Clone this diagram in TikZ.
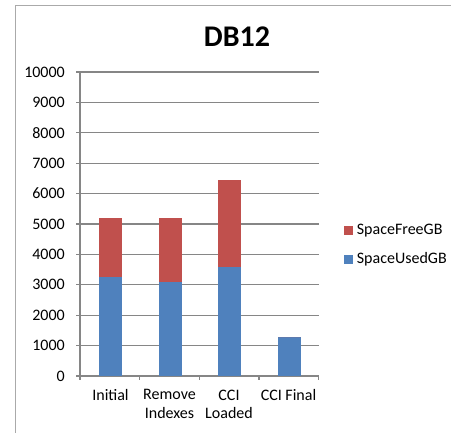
\documentclass[tikz,border=0pt]{standalone}
\usepackage{fontspec}
\setmainfont{Carlito}
\usetikzlibrary{positioning}
\definecolor{UsedBlue}{RGB}{79,129,189}
\definecolor{FreeRed}{RGB}{192,80,77}
\definecolor{GridGray}{RGB}{134,134,134}
\definecolor{FrameGray}{RGB}{170,170,170}
\tikzset{
	grid line/.style={draw=GridGray,line width=1.3pt},
	tick label/.style={font=\fontsize{16}{18}\selectfont,anchor=east,inner sep=0pt},
	cat label/.style={font=\fontsize{16}{18.5}\selectfont,align=center,anchor=north,inner sep=0pt},
	key box/.style={fill=#1,minimum size=9pt,inner sep=0pt},
	key text/.style={font=\fontsize{16}{18}\selectfont,inner sep=0pt},
}

\begin{document}
\begin{tikzpicture}[x=1pt,y=-1pt]
	\useasboundingbox (0,0) rectangle (451,433);
	% chart frame
	\draw[FrameGray,line width=1.2pt] (15.5,433) -- (15.5,5.5) -- (451,5.5);
	\node[font=\bfseries\fontsize{30}{34}\selectfont] (title) at (237,37) {DB12};
	% plot area, values upward
	\begin{scope}[shift={(80,376)},y=0.0304pt]
		\foreach \v in {0,1000,...,10000} {
			\draw[grid line] (-4,\v) -- (239,\v);
			\node[tick label] (tick\v) at (-15,\v) {\v};
		}
		\draw[grid line] (0,-130) -- (0,10000);
		\foreach \i in {1,...,4}
			\draw[grid line] ({\i*59.7},0) -- ({\i*59.7},-130);
		% stacked bars
		\foreach \i/\used/\total in {0/3266/5187,1/3100/5187,2/3575/6447,3/1272/1272} {
			\fill[UsedBlue] ({\i*59.5+19},0) rectangle ({\i*59.5+42},\used);
			\fill[FreeRed] ({\i*59.5+19},\used) rectangle ({\i*59.5+42},\total);
		}
	\end{scope}
	% categories
	\node[cat label] (initial) at (110.5,389.5) {Initial};
	\node[cat label] (remove) at (169.5,389.5) {Remove\\Indexes};
	\node[cat label] (loaded) at (229,389.5) {CCI\\Loaded};
	\node[cat label] (final) at (288.5,389.5) {CCI Final};
	% legend
	\node[key box=FreeRed] (freekey) at (348.5,231) {};
	\node[key text,right=3.5pt of freekey] (freetext) {SpaceFreeGB};
	\node[key box=UsedBlue] (usedkey) at (348.5,259.5) {};
	\node[key text,right=3.5pt of usedkey] (usedtext) {SpaceUsedGB};
\end{tikzpicture}
\end{document}
